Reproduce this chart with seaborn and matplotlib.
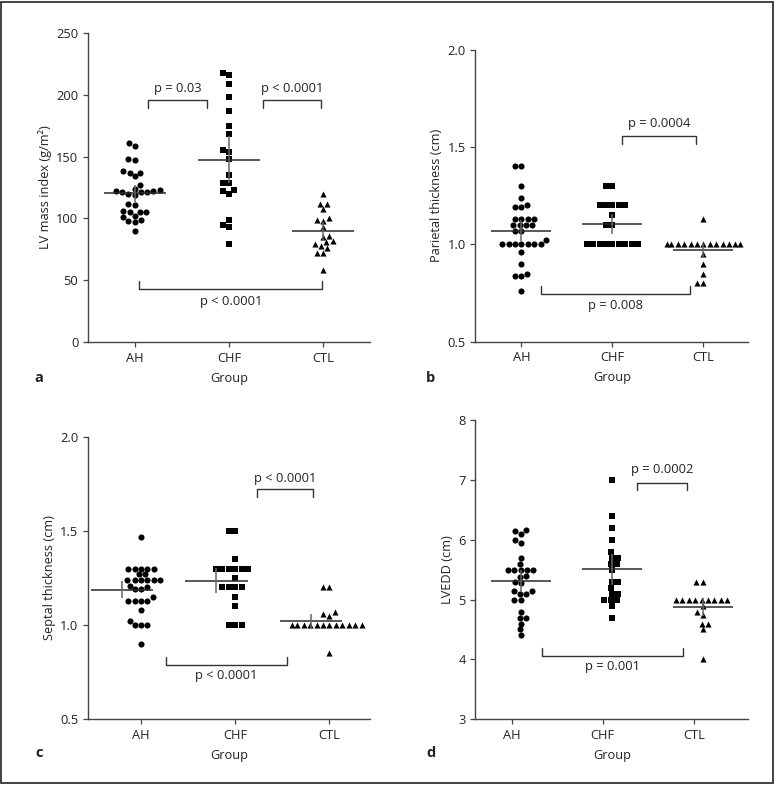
import numpy as np
import pandas as pd
import seaborn as sns
import matplotlib
matplotlib.use('Agg')
from matplotlib import pyplot as plt
from matplotlib.patches import Rectangle

groups = ['AH', 'CHF', 'CTL']
markers = ['o', 's', '^']

# LV mass index (g/m2)
lvmi_ah = [161, 159, 148, 147, 137, 134, 137, 138, 127, 123, 122, 121, 121, 120, 121,
           122, 124, 119, 112, 111, 106, 105, 105, 105, 101, 98, 97, 99, 102, 90]
lvmi_chf = [218, 216, 209, 198, 187, 175, 168, 155, 154, 148, 135, 129, 129, 123, 122,
            120, 99, 95, 93, 79]
lvmi_ctl = [120, 112, 112, 108, 99, 100, 98, 93, 86, 85, 81, 82, 78, 79, 76, 72, 72, 58]

# Parietal thickness (cm)
par_ah = [1.4, 1.4, 1.3, 1.24, 1.19, 1.19, 1.2, 1.13, 1.13, 1.13, 1.13, 1.1, 1.1, 1.1, 1.1,
          1.07, 1.07, 1.02, 1.0, 1.0, 1.0, 1.0, 1.0, 1.0, 1.0, 0.96, 0.9, 0.84, 0.84, 0.85, 0.76]
par_chf = [1.3, 1.3, 1.2, 1.2, 1.2, 1.2, 1.2, 1.15, 1.1, 1.1,
           1.0, 1.0, 1.0, 1.0, 1.0, 1.0, 1.0, 1.0, 1.0]
par_ctl = [1.13, 1.0, 1.0, 1.0, 1.0, 1.0, 1.0, 1.0, 1.0, 1.0, 1.0, 1.0, 1.0, 1.0,
           0.95, 0.9, 0.85, 0.8, 0.8]

# Septal thickness (cm)
sep_ah = [1.47, 1.3, 1.3, 1.3, 1.3, 1.3, 1.27, 1.27, 1.24, 1.24, 1.24, 1.24, 1.24, 1.24,
          1.21, 1.2, 1.19, 1.19, 1.15, 1.13, 1.13, 1.13, 1.13, 1.08, 1.02, 1.0, 1.0, 1.0, 0.9]
sep_chf = [1.5, 1.5, 1.35, 1.3, 1.3, 1.3, 1.3, 1.3, 1.3, 1.25, 1.2, 1.2, 1.2, 1.2,
           1.15, 1.1, 1.0, 1.0, 1.0]
sep_ctl = [1.2, 1.2, 1.07, 1.06, 1.05, 1.0, 1.0, 1.0, 1.0, 1.0, 1.0, 1.0, 1.0, 1.0,
           1.0, 1.0, 1.0, 0.85]

# LVEDD (cm)
lvedd_ah = [6.15, 6.1, 6.17, 5.95, 6.0, 5.7, 5.6, 5.5, 5.5, 5.5, 5.5, 5.5, 5.4, 5.37,
            5.3, 5.27, 5.15, 5.14, 5.1, 5.1, 5.0, 5.0, 4.8, 4.7, 4.7, 4.6, 4.5, 4.4]
lvedd_chf = [7.0, 6.4, 6.2, 6.0, 5.8, 5.7, 5.7, 5.6, 5.6, 5.5, 5.3, 5.3, 5.2, 5.1, 5.1,
             5.0, 5.0, 5.0, 4.9, 4.7]
lvedd_ctl = [5.3, 5.3, 5.0, 5.0, 5.0, 5.0, 5.0, 5.0, 5.0, 5.0, 5.0, 4.9, 4.8, 4.75,
             4.6, 4.6, 4.5, 4.0]

sns.set_style('ticks')
plt.rcParams['font.family'] = ['Open Sans', 'DejaVu Sans']
plt.rcParams['font.size'] = 9.2

fig = plt.figure(figsize=(7.76, 7.85), dpi=100)


def draw_panel(ax, values, ylabel, ylim, yticks, yticklabels, xlim, brackets,
               tick_shift=0.0, mean_shift=0.0):
    df = pd.DataFrame({'Group': np.repeat(groups, [len(v) for v in values]),
                       'value': np.concatenate(values)})
    for g, m in zip(groups, markers):
        sns.swarmplot(data=df[df.Group == g], x='Group', y='value', order=groups,
                      marker=m, color='black', size=4.4, linewidth=0, ax=ax)
    # mean line and error bar (mean +/- 2 SEM)
    for i, v in enumerate(values):
        v = np.asarray(v, dtype=float)
        mean = v.mean()
        half = 2 * v.std(ddof=1) / np.sqrt(len(v))
        x = i + mean_shift
        ax.hlines(mean, x - 0.33, x + 0.33, color='#2a2a2a', lw=1.1, zorder=3)
        ax.vlines(x, mean - half, mean + half, color='#666666', lw=1.1, zorder=3)
    # significance brackets
    for x1, x2, y, h, txt, ty in brackets:
        ax.plot([x1, x1, x2, x2], [y + h, y, y, y + h], color='#333333', lw=1)
        ax.text((x1 + x2) / 2, ty, txt, ha='center', va='center', color='#222222',
                fontsize=9.3)
    ax.set_ylim(*ylim)
    ax.set_yticks(yticks)
    ax.set_yticklabels(yticklabels)
    ax.set_xticks([i + tick_shift for i in range(3)])
    ax.set_xticklabels(groups)
    ax.set_xlim(*xlim)
    ax.set_xlabel('Group', labelpad=5, color='#222222', fontsize=9.2)
    ax.set_ylabel(ylabel, color='#222222', fontsize=9.2, labelpad=3)
    sns.despine(ax=ax)
    for s in ['left', 'bottom']:
        ax.spines[s].set_color('#444444')
        ax.spines[s].set_linewidth(1)
    ax.tick_params(length=3.5, width=0.9, color='#444444', labelcolor='#222222',
                   labelsize=9.3)


ax_a = fig.add_axes([0.1134, 0.5643, 0.3634, 0.3936])
draw_panel(ax_a, [lvmi_ah, lvmi_chf, lvmi_ctl], 'LV mass index (g/m²)',
           (0, 250), [0, 50, 100, 150, 200, 250], ['0', '50', '100', '150', '200', '250'],
           (-0.495, 2.495),
           [(0.14, 0.77, 195.5, -6, 'p = 0.03', 205),
            (1.36, 1.98, 195.5, -6, 'p < 0.0001', 205),
            (0.05, 1.99, 42.6, 6.8, 'p < 0.0001', 33)])

ax_b = fig.add_axes([0.6126, 0.5647, 0.3518, 0.372])
draw_panel(ax_b, [par_ah, par_chf, par_ctl], 'Parietal thickness (cm)',
           (0.5, 2.0), [0.5, 1.0, 1.5, 2.0], ['0.5', '1.0', '1.5', '2.0'],
           (-0.506, 2.495),
           [(1.11, 1.92, 1.555, -0.041, 'p = 0.0004', 1.623),
            (0.21, 1.85, 0.745, 0.041, 'p = 0.008', 0.685)])

ax_c = fig.add_axes([0.1138, 0.0837, 0.363, 0.36])
draw_panel(ax_c, [sep_ah, sep_chf, sep_ctl], 'Septal thickness (cm)',
           (0.5, 2.0), [0.5, 1.0, 1.5, 2.0], ['0.5', '1.0', '1.5', '2.0'],
           (-0.56, 2.43),
           [(1.23, 1.82, 1.724, -0.044, 'p < 0.0001', 1.78),
            (0.26, 1.55, 0.79, 0.043, 'p < 0.0001', 0.73)],
           mean_shift=-0.2)

ax_d = fig.add_axes([0.6126, 0.0837, 0.3518, 0.3813])
draw_panel(ax_d, [lvedd_ah, lvedd_chf, lvedd_ctl], 'LVEDD (cm)',
           (3, 8), [3, 4, 5, 6, 7, 8], ['3', '4', '5', '6', '7', '8'],
           (-0.5, 2.5),
           [(1.28, 1.83, 6.95, -0.12, 'p = 0.0002', 7.165),
            (0.235, 1.78, 4.05, 0.14, 'p = 0.001', 3.88)],
           tick_shift=-0.1)

for letter, x, y in [('a', 0.050, 0.519), ('b', 0.555, 0.519),
                     ('c', 0.050, 0.041), ('d', 0.555, 0.041)]:
    fig.text(x, y, letter, ha='center', va='center', fontsize=10.5, fontweight='bold',
             color='#222222')

fig.add_artist(Rectangle((0.0015, 0.0025), 0.9945, 0.995, transform=fig.transFigure,
                         fill=False, edgecolor='#222222', lw=1.2))

fig.savefig('out.png', dpi=100)
